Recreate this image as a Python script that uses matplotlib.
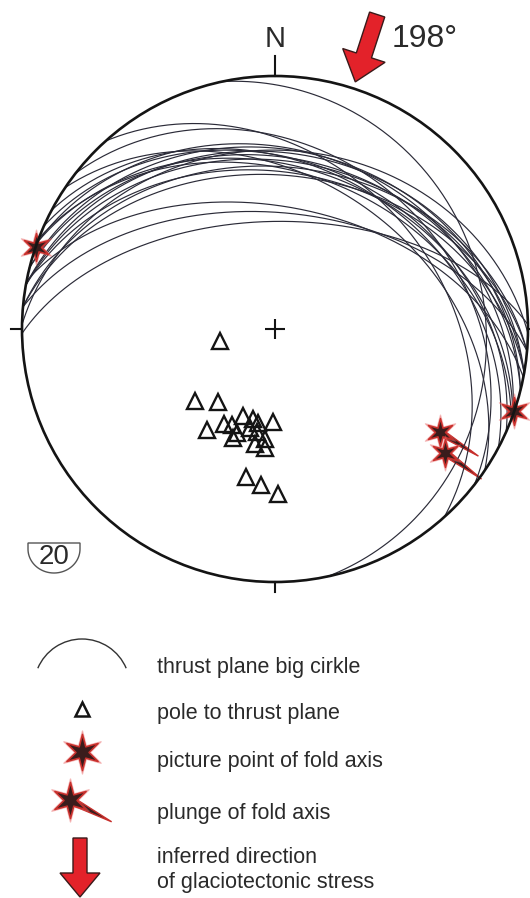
import numpy as np
import matplotlib
matplotlib.use("Agg")
import matplotlib.pyplot as plt
from matplotlib.path import Path
from matplotlib.patches import Circle, Polygon, FancyArrow, Arc

plt.rcParams['font.family'] = ['Liberation Sans', 'DejaVu Sans']

# poles to thrust planes, lower hemisphere (trend, plunge in degrees)
pole_trend = [258, 228, 218, 214, 208, 204, 200, 194, 190, 181,
              201, 194, 190, 185, 190, 185, 200, 191, 185, 179]
pole_plunge = [72, 55, 60, 50, 55, 56, 60, 60, 59, 60,
               52, 57, 56, 54, 52, 51, 54, 40, 38, 35]

# fold axes (picture points), some with plunge tail
fold_trend = [289, 109, 122, 126]
fold_plunge = [0, 0, 24, 18]
fold_tail = [False, False, True, True]

stress_dir = 198

legend_labels = ["thrust plane big cirkle", "pole to thrust plane",
                 "picture point of fold axis", "plunge of fold axis",
                 "inferred direction\nof glaciotectonic stress"]

RED = '#e3222a'
DARK = '#3a1c1c'
EDGE = '#c8302c'
INK = '#141414'
TXT = '#2a2a2a'


def project(trend, plunge):
    # equal-area (Schmidt) lower hemisphere
    t = np.radians(trend)
    p = np.radians(plunge)
    r = np.sqrt(2) * np.sin((np.pi / 2 - p) / 2)
    return r * np.sin(t), r * np.cos(t)


def great_circle(dipdir, dip, n=241):
    s = np.radians(dipdir - 90)
    dd = np.radians(dipdir)
    d = np.radians(dip)
    phi = np.linspace(0, np.pi, n)
    e = np.cos(phi) * np.sin(s) + np.sin(phi) * np.cos(d) * np.sin(dd)
    nn = np.cos(phi) * np.cos(s) + np.sin(phi) * np.cos(d) * np.cos(dd)
    down = np.sin(phi) * np.sin(d)
    trend = np.degrees(np.arctan2(e, nn))
    plunge = np.degrees(np.arcsin(np.clip(down, -1, 1)))
    return project(trend, plunge)


star = Path.unit_regular_star(6, 0.36)


def draw_star(a, x, y, ms=20):
    a.plot(x, y, marker=star, ms=ms + 5, color='#e86060', alpha=0.4, ls='none')
    a.plot(x, y, marker=star, ms=ms, mfc=DARK, mec=EDGE, mew=1.1, ls='none')


def draw_tail(a, x, y, ux, uy, length, width):
    px, py = uy, -ux
    pts = [(x + px * width / 2, y + py * width / 2),
           (x - px * width / 2, y - py * width / 2),
           (x + ux * length, y + uy * length)]
    a.add_patch(Polygon(pts, closed=True, fc=DARK, ec=EDGE, lw=1.0))


fig = plt.figure(figsize=(5.3, 8.98), dpi=100)

# legend / annotation axes in pixel units (y down)
lg = fig.add_axes([0, 0, 1, 1])
lg.set_xlim(0, 530)
lg.set_ylim(898, 0)
lg.axis('off')

# stereonet axes, unit circle = primitive
R = 253.0
ax = fig.add_axes([0, 0, 1, 1], label='net')
ax.set_xlim(-275 / R, 255 / R)
ax.set_ylim(-569 / R, 329 / R)
ax.axis('off')

ax.add_patch(Circle((0, 0), 1, fill=False, lw=1.9, ec=INK, zorder=5))
ax.plot([0, 0], [1, 1.08], color=INK, lw=1.5)
ax.plot([-1, -1.045], [0, 0], color=INK, lw=1.5)
ax.plot([0, 0], [-1, -1.04], color=INK, lw=1.5)
ax.plot([1, 1.045], [0, 0], color=INK, lw=1.5)
ax.plot(0, 0, marker='+', ms=14, mew=1.5, color=INK)
ax.text(0, 1.145, "N", ha='center', va='center', fontsize=21, color=TXT)

# great circles from the poles
for T, P in zip(pole_trend, pole_plunge):
    gx, gy = great_circle((T + 180) % 360, 90 - P)
    ax.plot(gx, gy, lw=0.85, color='#2b2b38')

px, py = project(np.array(pole_trend), np.array(pole_plunge))
ax.plot(px, py, ls='none', marker='^', ms=12, mfc='none', mec=INK, mew=1.7)

fx, fy = project(np.array(fold_trend), np.array(fold_plunge))
for x, y, t, tail in zip(fx, fy, fold_trend, fold_tail):
    if tail:
        draw_tail(ax, x, y, np.sin(np.radians(t)), np.cos(np.radians(t)), 45 / R, 7 / R)
    draw_star(ax, x, y, ms=20)

# stress arrow, tip just outside the primitive
back = np.radians(stress_dir - 180)
tx, ty = 1.027 * np.sin(back), 1.027 * np.cos(back)
L = 0.28
ux, uy = np.sin(np.radians(stress_dir)), np.cos(np.radians(stress_dir))
ax.add_patch(FancyArrow(tx - ux * L, ty - uy * L, ux * L, uy * L, width=0.063,
                        head_width=0.176, head_length=0.11, length_includes_head=True,
                        fc=RED, ec='#3a1a1a', lw=1.0, zorder=6))
ax.text(0.462, 1.145, f"{stress_dir}°", ha='left', va='center', fontsize=23, color=TXT)

# count shield
th = np.linspace(0, np.pi, 50)
shield = [(28, 543), (80, 543)] + [(54 + 26 * np.cos(a), 549 + 24 * np.sin(a)) for a in th]
lg.add_patch(Polygon(shield, closed=True, fill=False, ec='#555555', lw=1.0))
lg.text(54, 557, f"{len(pole_trend)}", ha='center', va='center', fontsize=20, color=TXT)

# legend
lg.add_patch(Arc((82, 687), 96, 96, theta1=203, theta2=337, color='#333333', lw=1.0))
lg.plot(82, 709, ls='none', marker='^', ms=10, mfc='none', mec=INK, mew=1.8)
draw_star(lg, 82, 752, ms=26)
draw_tail(lg, 70, 800, 0.886, 0.464, 47, 8)
draw_star(lg, 70, 800, ms=26)
lg.add_patch(FancyArrow(80, 838, 0, 59, width=14, head_width=40, head_length=24,
                        length_includes_head=True, fc=RED, ec='#3a1a1a', lw=1.0))
rows_y = [667, 713, 762, 813, 870]
for lab, yy in zip(legend_labels, rows_y):
    lg.text(157, yy, lab, ha='left', va='center', fontsize=15.5, color=TXT)

fig.savefig("out.png", dpi=100)
